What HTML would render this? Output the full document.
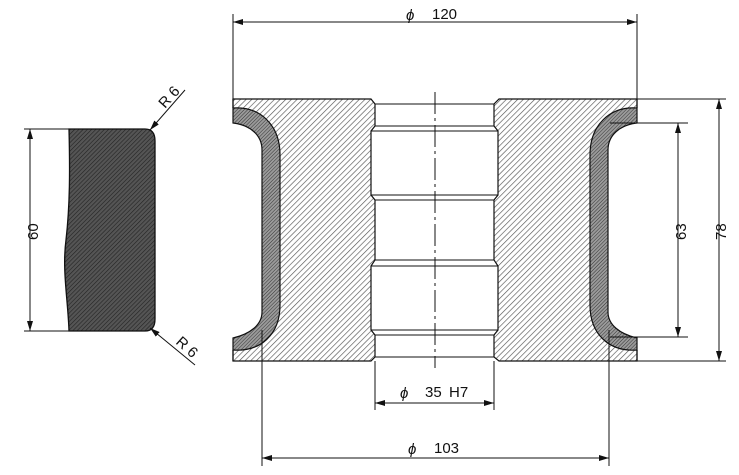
<!DOCTYPE html>
<html><head><meta charset="utf-8"><style>body{margin:0;background:#fff}svg{display:block}text{font-family:"Liberation Sans",sans-serif;font-size:15px;fill:#111}</style></head><body>
<svg width="739" height="475" viewBox="0 0 739 475" xmlns="http://www.w3.org/2000/svg">
<defs>
<pattern id="h" width="4" height="4" patternUnits="userSpaceOnUse" patternTransform="rotate(45)"><line x1="0" y1="0" x2="0" y2="4" stroke="#555" stroke-width="1.3"/></pattern>
<pattern id="d" width="2.5" height="2.5" patternUnits="userSpaceOnUse" patternTransform="rotate(45)"><rect width="2.5" height="2.5" fill="#9a9a9a"/><line x1="0" y1="0" x2="0" y2="2.5" stroke="#333" stroke-width="1"/></pattern>
<pattern id="k" width="3" height="3" patternUnits="userSpaceOnUse" patternTransform="rotate(45)"><rect width="3" height="3" fill="#555"/><line x1="0" y1="0" x2="0" y2="3" stroke="#222" stroke-width="1.2"/></pattern>
<marker id="a" markerWidth="10" markerHeight="6" refX="10" refY="3" orient="auto-start-reverse" markerUnits="userSpaceOnUse"><path d="M0,0L10,3L0,6z" fill="#111"/></marker>
</defs>
<g stroke="#111" fill="none" stroke-width="1">
<!-- left part -->
<path d="M69,129 L145,129 Q155,129 155,141 L155,319 Q155,331 145,331 L69,331 C68,300 62,270 66,240 C70,205 70,170 69,129Z" fill="url(#k)" stroke-width="1.3"/>
<line x1="24" y1="129" x2="69" y2="129"/><line x1="24" y1="331" x2="69" y2="331"/>
<line x1="30" y1="129" x2="30" y2="331" marker-start="url(#a)" marker-end="url(#a)"/>
<line x1="185" y1="90" x2="150" y2="130" marker-end="url(#a)"/>
<line x1="195" y1="365" x2="150" y2="328" marker-end="url(#a)"/>
<!-- body -->
<path d="M233,99 L371,99 L375,104 L375,126 L371,131 L371,195 L375,200 L375,260 L371,266 L371,330 L375,335 L375,357 L371,361 L233,361 Z" fill="url(#h)" stroke-width="1.2"/>
<path d="M637,99 L499,99 L494,104 L494,126 L498,131 L498,195 L494,200 L494,260 L498,266 L498,330 L494,335 L494,357 L499,361 L637,361 Z" fill="url(#h)" stroke-width="1.2"/>
<g stroke-width="1"><line x1="375" y1="104" x2="494" y2="104"/><line x1="375" y1="126" x2="494" y2="126"/><line x1="371" y1="131" x2="498" y2="131"/><line x1="371" y1="195" x2="498" y2="195"/><line x1="375" y1="200" x2="494" y2="200"/><line x1="375" y1="260" x2="494" y2="260"/><line x1="371" y1="266" x2="498" y2="266"/><line x1="371" y1="330" x2="498" y2="330"/><line x1="375" y1="335" x2="494" y2="335"/><line x1="375" y1="357" x2="494" y2="357"/></g>
<!-- grooves: clear region -->
<path d="M232,108 C260,106 280,125 280,155 L280,305 C280,335 260,352 232,350 Z" fill="#fff" stroke="none"/>
<path d="M638,108 C610,106 590,125 590,155 L590,305 C590,335 610,352 638,350 Z" fill="#fff" stroke="none"/>
<path d="M233,108 C260,106 280,125 280,155 L280,305 C280,335 260,352 233,350 L233,338 C250,334 262,325 262,312 L262,150 C262,135 250,125 233,123 Z" fill="url(#d)" stroke-width="1.2"/>
<path d="M637,108 C610,106 590,125 590,155 L590,305 C590,335 610,352 637,350 L637,338 C620,334 608,325 608,312 L608,150 C608,135 620,125 637,123 Z" fill="url(#d)" stroke-width="1.2"/>
<line x1="233" y1="99" x2="233" y2="108" stroke-width="1.2"/><line x1="233" y1="350" x2="233" y2="361" stroke-width="1.2"/>
<line x1="637" y1="99" x2="637" y2="108" stroke-width="1.2"/><line x1="637" y1="350" x2="637" y2="361" stroke-width="1.2"/>
<line x1="435" y1="92" x2="435" y2="368" stroke-dasharray="22,4,3,4"/>
<line x1="233" y1="14" x2="233" y2="99"/><line x1="637" y1="14" x2="637" y2="99"/>
<line x1="233" y1="22" x2="637" y2="22" marker-start="url(#a)" marker-end="url(#a)"/>
<line x1="610" y1="123" x2="688" y2="123"/><line x1="610" y1="337" x2="688" y2="337"/>
<line x1="678" y1="123" x2="678" y2="337" marker-start="url(#a)" marker-end="url(#a)"/>
<line x1="637" y1="99" x2="726" y2="99"/><line x1="637" y1="361" x2="726" y2="361"/>
<line x1="719" y1="99" x2="719" y2="361" marker-start="url(#a)" marker-end="url(#a)"/>
<line x1="375" y1="361" x2="375" y2="410"/><line x1="494" y1="361" x2="494" y2="410"/>
<line x1="375" y1="403" x2="494" y2="403" marker-start="url(#a)" marker-end="url(#a)"/>
<line x1="262" y1="330" x2="262" y2="466"/><line x1="609" y1="330" x2="609" y2="466"/>
<line x1="262" y1="458" x2="609" y2="458" marker-start="url(#a)" marker-end="url(#a)"/>
</g>
<text x="406" y="20" font-size="20" font-style="italic" font-family="Liberation Serif">ϕ</text><text x="432" y="19">120</text>
<text x="400" y="398" font-size="20" font-style="italic" font-family="Liberation Serif">ϕ</text><text x="425" y="397">35</text><text x="449" y="397">H7</text>
<text x="408" y="454" font-size="20" font-style="italic" font-family="Liberation Serif">ϕ</text><text x="434" y="453">103</text>
<text transform="translate(38,240) rotate(-90)">60</text>
<text transform="translate(686,240) rotate(-90)">63</text>
<text transform="translate(726,240) rotate(-90)">78</text>
<text transform="translate(165,109) rotate(-48)">R 6</text>
<text transform="translate(175,343) rotate(42)">R 6</text>
</svg>
</body></html>
